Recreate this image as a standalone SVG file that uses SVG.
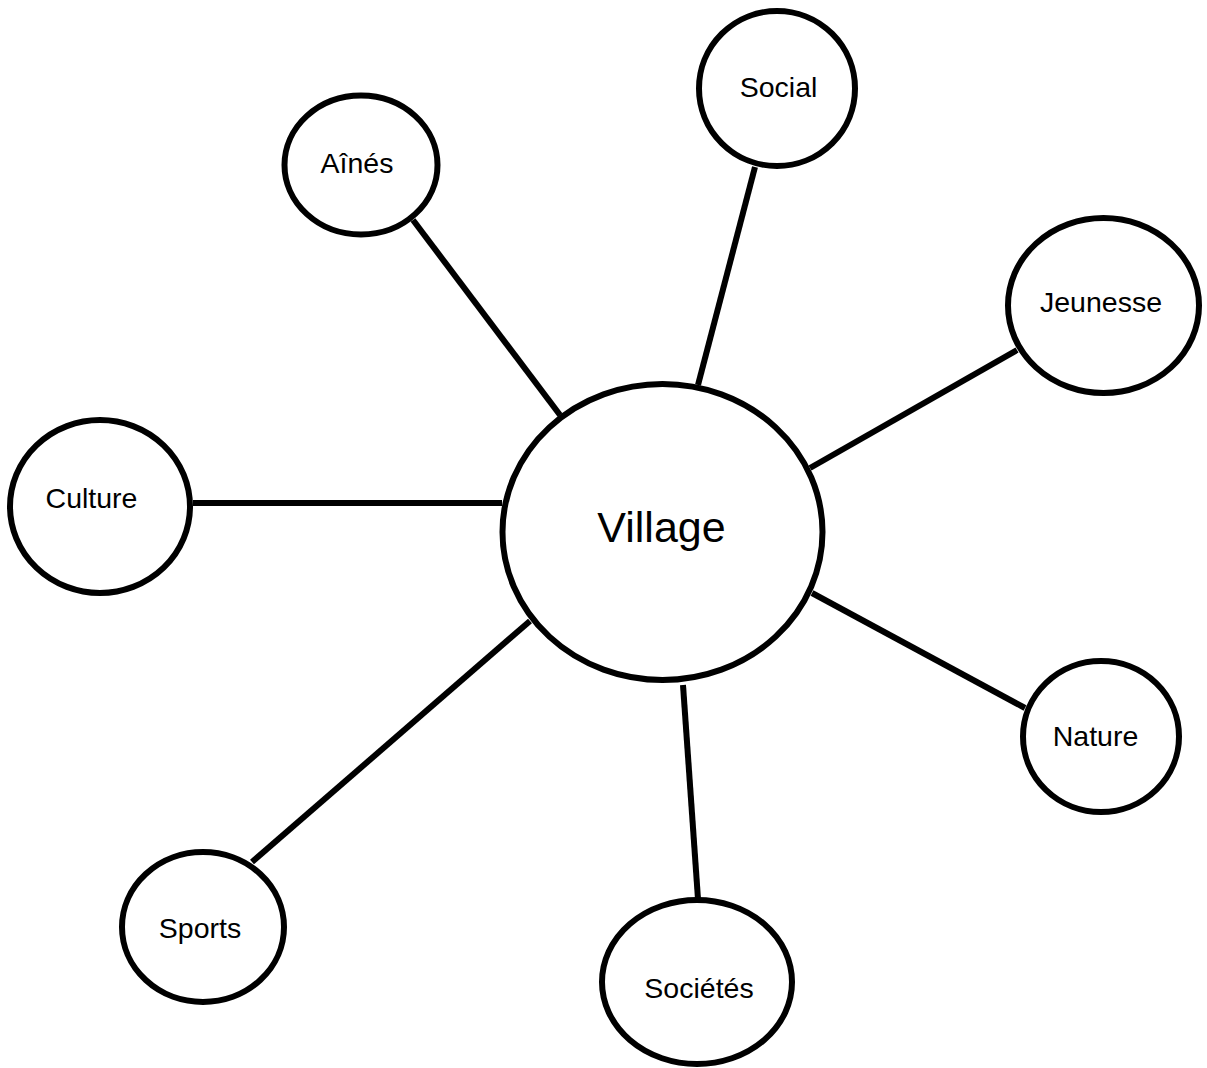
<svg xmlns="http://www.w3.org/2000/svg" width="1207" height="1068" viewBox="0 0 1207 1068">
<style>
.n{fill:#fff;stroke:#000;stroke-width:6}
.c line{stroke:#000;stroke-width:6}
text{font-family:"Liberation Sans",Arial,sans-serif;font-size:28.5px;fill:#000;text-anchor:middle}
.big{font-size:43px}
</style>
<rect width="1207" height="1068" fill="#fff"/>
<g id="connectors" class="c">
<line x1="413" y1="220" x2="560" y2="415"/>
<line x1="755" y1="167" x2="698" y2="385"/>
<line x1="1017" y1="350" x2="810" y2="468"/>
<line x1="193" y1="503" x2="502" y2="503"/>
<line x1="812" y1="593" x2="1025" y2="708"/>
<line x1="252" y1="862" x2="530" y2="621"/>
<line x1="683" y1="685" x2="698" y2="899"/>
</g>
<g id="village"><ellipse class="n" cx="662.5" cy="532" rx="160" ry="148"/><text class="big" x="661.5" y="542">Village</text></g>
<g id="aines"><ellipse class="n" cx="361" cy="165" rx="76.5" ry="69.5"/><text x="357" y="173">Aînés</text></g>
<g id="social"><ellipse class="n" cx="777" cy="88.5" rx="78" ry="77.5"/><text x="778.5" y="97">Social</text></g>
<g id="jeunesse"><ellipse class="n" cx="1103.5" cy="305.5" rx="95.5" ry="87.5"/><text x="1101" y="312">Jeunesse</text></g>
<g id="culture"><ellipse class="n" cx="100" cy="506.5" rx="90" ry="86.5"/><text x="91.5" y="508">Culture</text></g>
<g id="nature"><ellipse class="n" cx="1101" cy="736.5" rx="78" ry="75.5"/><text x="1095.5" y="746">Nature</text></g>
<g id="sports"><ellipse class="n" cx="203" cy="927" rx="81" ry="75"/><text x="200" y="938">Sports</text></g>
<g id="societes"><ellipse class="n" cx="697" cy="982" rx="95" ry="82"/><text x="699" y="998">Sociétés</text></g>
</svg>
